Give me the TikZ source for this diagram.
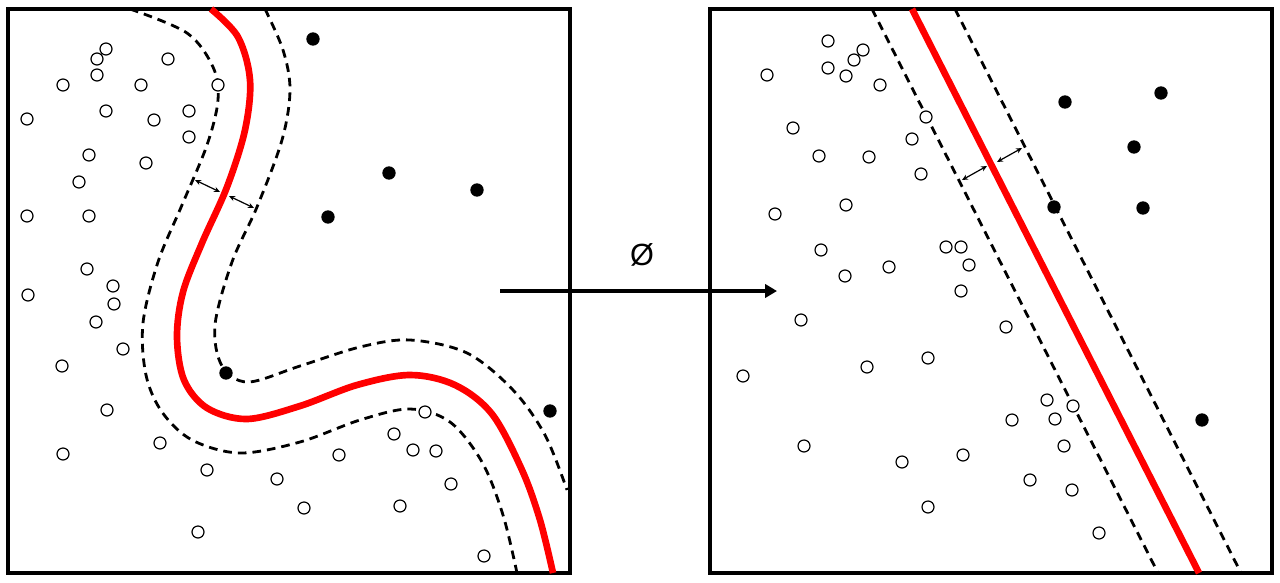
\documentclass[tikz,border=0pt]{standalone}
\usepackage{fontspec}
\setmainfont{Liberation Sans}
\usetikzlibrary{arrows.meta}

\begin{document}
\begin{tikzpicture}[x=0.75pt, y=-0.75pt,
  space/.style={rectangle, draw, line width=2.3pt, minimum width=421.5pt, minimum height=423pt, inner sep=0pt},
  opendot/.style={circle, draw, line width=0.9pt, fill=white, inner sep=0pt, minimum size=9pt},
  fulldot/.style={circle, fill=black, inner sep=0pt, minimum size=10pt},
  boundary/.style={red, line width=5pt},
  margin/.style={line width=2.1pt, dash pattern=on 6.5pt off 4.5pt},
  gap/.style={{Stealth[length=4.5pt,width=4pt]}-{Stealth[length=4.5pt,width=4pt]}, line width=0.9pt}]
\useasboundingbox (0,0) rectangle (1280,582);

\node (input) [space] at (289,291) {};
\node (feature) [space] at (991,291) {};

\draw[margin] plot[smooth, tension=0.55] coordinates {(130,9) (187,33) (213,67) (218,100) (207,145) (182,205) (158,262) (143,323) (146,375) (162,412) (192,440) (240,453) (300,442) (360,420) (410,409) (450,422) (482,462) (503,515) (517,573)};
\draw[margin] plot[smooth, tension=0.55] coordinates {(265,9) (283,50) (290,90) (282,140) (257,207) (232,262) (215,325) (222,366) (248,382) (300,366) (360,347) (410,340) (467,353) (513,390) (545,435) (567,490)};
\draw[boundary] plot[smooth, tension=0.55] coordinates {(211,9) (238,37) (250,80) (245,130) (227,187) (202,243) (183,292) (177,337) (184,380) (207,408) (247,419) (300,406) (357,385) (410,375) (455,385) (492,414) (522,470) (540,520) (553,573)};

\draw[margin] (872,9) -- (1158,573);
\draw[margin] (955,9) -- (1241,573);
\draw[boundary] (912,9) -- (1199,573);

\coordinate (la1) at (195,180);
\coordinate (la2) at (220,192);
\coordinate (lb1) at (229,196);
\coordinate (lb2) at (254,208);
\coordinate (ra1) at (962,180);
\coordinate (ra2) at (987,166);
\coordinate (rb1) at (997,162);
\coordinate (rb2) at (1022,148);
\draw[gap] (la1) -- (la2);
\draw[gap] (lb1) -- (lb2);
\draw[gap] (ra1) -- (ra2);
\draw[gap] (rb1) -- (rb2);

\foreach \x/\y [count=\i] in {106/49, 97/59, 168/59, 63/85, 97/75, 141/85, 218/85, 27/119, 106/111, 154/120, 189/111, 189/137, 89/155, 146/163, 79/182, 27/216, 89/216, 87/269, 113/286, 28/295, 114/304, 96/322, 123/349, 62/366, 107/410, 63/454, 160/443, 207/470, 277/479, 304/508, 198/532, 425/412, 394/434, 413/450, 436/451, 339/455, 451/484, 400/506, 484/556}
  \node (lo\i) [opendot] at (\x,\y) {};
\foreach \x/\y [count=\i] in {313/39, 389/173, 477/190, 328/217, 226/373, 550/411}
  \node (lf\i) [fulldot] at (\x,\y) {};

\foreach \x/\y [count=\i] in {828/41, 863/50, 854/60, 828/68, 846/76, 767/75, 880/85, 926/117, 793/128, 912/139, 819/156, 869/157, 921/174, 775/214, 846/205, 821/250, 946/247, 961/247, 969/265, 889/267, 845/276, 961/291, 801/320, 743/376, 867/367, 928/358, 804/446, 902/462, 963/455, 928/507, 1006/327, 1047/400, 1073/406, 1012/420, 1055/419, 1064/446, 1030/480, 1072/490, 1099/533}
  \node (ro\i) [opendot] at (\x,\y) {};
\foreach \x/\y [count=\i] in {1065/102, 1161/93, 1134/147, 1054/207, 1143/208, 1202/420}
  \node (rf\i) [fulldot] at (\x,\y) {};

\coordinate (mapstart) at (500,291);
\coordinate (mapend) at (777,291);
\draw[line width=2.3pt, -{Triangle[length=9pt,width=10pt]}] (mapstart) -- (mapend);
\node (phi) at (642,255) {\fontsize{23}{27}\selectfont Ø};
\end{tikzpicture}
\end{document}
